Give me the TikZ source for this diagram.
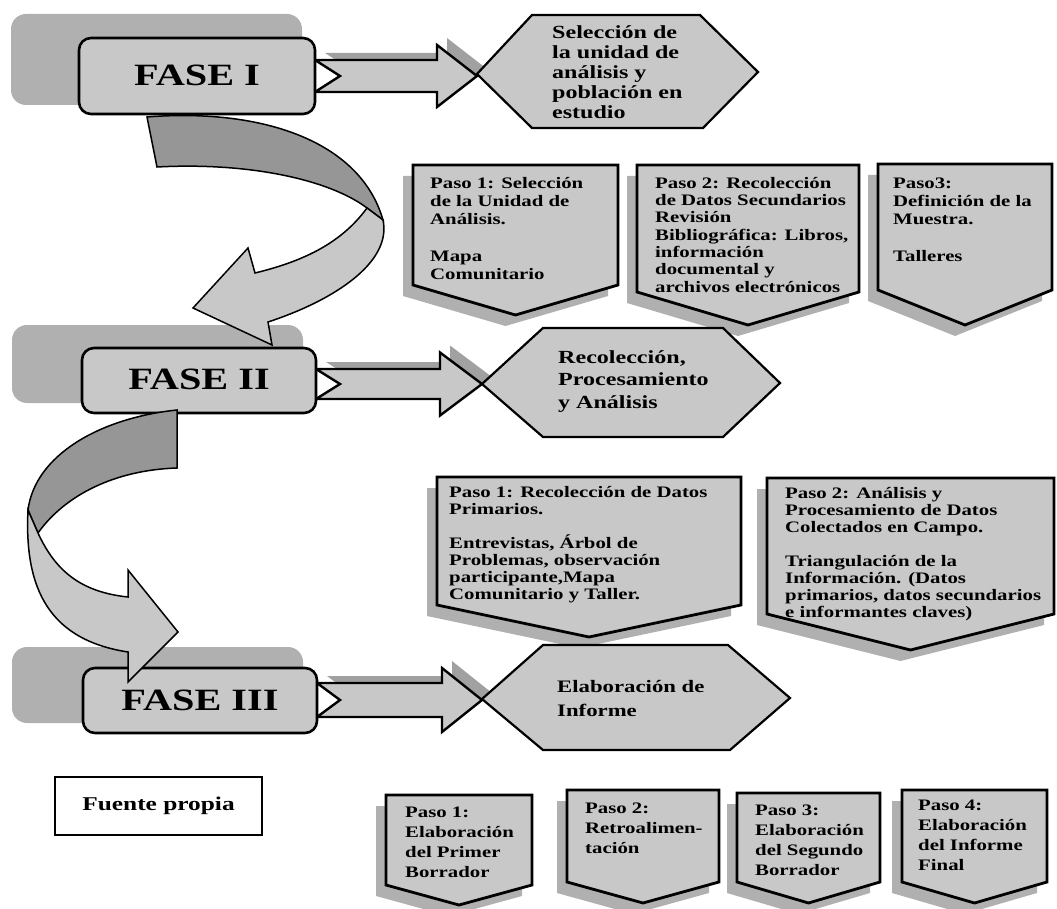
\documentclass[tikz,border=0pt]{standalone}
\usepackage{fontspec}
\setmainfont[FakeStretch=1.3]{Liberation Serif}
\usetikzlibrary{calc}
\definecolor{boxgray}{gray}{0.785}
\definecolor{shgray}{gray}{0.69}
\definecolor{arrsh}{gray}{0.63}
\definecolor{darkpart}{gray}{0.59}
\newcommand\fsz[2]{\fontsize{#1}{#2}\selectfont\bfseries}
\newcommand\fl{\rule{0pt}{14pt}}
\tikzset{
 stepshape/.style={fill=boxgray,draw=black,line width=2.8pt,line join=miter},
 stepshadow/.style={fill=shgray},
 fasebox/.style={fill=boxgray,draw=black,line width=2.6pt,rounded corners=12pt},
 faseshadow/.style={fill=shgray,rounded corners=15pt},
 hexshape/.style={fill=boxgray,draw=black,line width=2.2pt,line join=miter},
 blockarr/.style={fill=boxgray,draw=black,line width=2.4pt,line join=miter},
 arrowshadow/.style={fill=arrsh},
 curvelight/.style={fill=boxgray,draw=black,line width=1.5pt,line join=miter},
 curvedark/.style={fill=darkpart,draw=black,line width=1.5pt,line join=miter},
 txt/.style={anchor=north west,align=left,inner sep=0pt,yshift=14pt},
 fasetxt/.style={anchor=base,inner sep=0pt,font=\fsz{31}{34}},
}
\newcommand\pasopath[5]{(#1,#3) -- (#2,#3) -- (#2,#4) -- ({(#1+#2)/2},#5) -- (#1,#4) -- cycle}
\newcommand\pasobox[5]{%
 \fill[stepshadow,shift={(-10,11)}] \pasopath{#1}{#2}{#3}{#4}{#5};
 \draw[stepshape] \pasopath{#1}{#2}{#3}{#4}{#5};}
\newcommand\arrpath[7]{({#1},{#5-#6}) -- ({#3},{#5-#6}) -- ({#3},{#5-#7}) -- ({#4},{#5}) -- ({#3},{#5+#7}) -- ({#3},{#5+#6}) -- ({#1},{#5+#6}) -- ({#2},{#5}) -- cycle}
\newcommand\blockarrow[7]{%
 \fill[arrowshadow,shift={(10,-7)}] \arrpath{#1}{#2}{#3}{#4}{#5}{#6}{#7};
 \draw[blockarr] \arrpath{#1}{#2}{#3}{#4}{#5}{#6}{#7};}
\begin{document}
\begin{tikzpicture}[x=1pt,y=-1pt]
\useasboundingbox (0,0) rectangle (1057,909);
% FASE shadows
\fill[faseshadow] (11,14) rectangle (302,105);
\fill[faseshadow] (12,325) rectangle (303,403);
\fill[faseshadow] (12,647) rectangle (303,723);
% row 1 step boxes
\pasobox{413}{618}{165}{285}{315}
\pasobox{637}{859}{165}{292}{325}
\pasobox{878}{1052}{164}{290}{325}
% row 2 step boxes
\pasobox{437}{741}{477}{605}{637}
\pasobox{767}{1054}{478}{614}{650}
% row 3 step boxes
\pasobox{386}{532}{795}{885}{905}
\pasobox{567}{719}{790}{882}{903}
\pasobox{737}{880}{793}{882}{903}
\pasobox{902}{1047}{790}{882}{903}
% block arrows
\blockarrow{315}{340}{437}{477}{76}{16}{31}
\blockarrow{316}{340}{440}{482}{384}{15}{31.5}
\blockarrow{317}{340}{442}{482}{700}{17}{32}
% hexagons
\draw[hexshape] (477,74) -- (532,15) -- (700,15) -- (758,72) -- (703,128) -- (532,128) -- cycle;
\draw[hexshape] (482,384) -- (543,328) -- (723,328) -- (780,383) -- (723,437) -- (543,437) -- cycle;
\draw[hexshape] (482,699) -- (543,645) -- (728,645) -- (790,698) -- (730,750) -- (543,750) -- cycle;
% FASE boxes
\draw[fasebox] (79,38) rectangle (315,114);
\draw[fasebox] (82,348) rectangle (316,413);
\draw[fasebox] (83,668) rectangle (317,733);
% curved arrow 1
\draw[curvedark] (147,117) .. controls (260,108) and (360,140) .. (383,220) -- (367,208) .. controls (330,180) and (250,162) .. (157,167) -- cycle;
\draw[curvelight] (367,208) .. controls (340,245) and (300,262) .. (255,273) -- (248,248) -- (193,308) -- (272,345) -- (268,322) .. controls (335,300) and (392,262) .. (383,220) -- cycle;
% curved arrow 2
\draw[curvedark] (177,410) .. controls (100,418) and (35,455) .. (28,510) -- (38,533) .. controls (65,495) and (115,470) .. (177,468) -- cycle;
\draw[curvelight] (28,510) .. controls (24,590) and (50,640) .. (128,652) -- (128,682) -- (178,632) -- (128,570) -- (128,597) .. controls (80,592) and (55,570) .. (38,533) -- cycle;
% FASE texts
\node[fasetxt] (f1) at (197,86) {FASE I};
\node[fasetxt] (f2) at (199,389) {FASE II};
\node[fasetxt] (f3) at (200,710) {FASE III};
% hexagon texts
\node[txt,font=\fsz{18.5}{20}] (h1) at (552,38) {\fl Selección de\\la unidad de\\análisis y\\población en\\estudio};
\node[txt,font=\fsz{18.5}{22.5}] (h2) at (558,363) {\fl Recolección,\\Procesamiento\\y Análisis};
\node[txt,font=\fsz{17.5}{24}] (h3) at (557,692) {\fl Elaboración de\\Informe};
% row 1 texts
\node[txt,font=\fsz{16}{18.3}] (p11) at (430,188) {\fl Paso 1: Selección\\de la Unidad de\\Análisis.\\[18.3pt]Mapa\\Comunitario};
\node[txt,font=\fsz{16}{17.3}] (p12) at (655,188) {\fl Paso 2: Recolección\\de Datos Secundarios\\Revisión\\Bibliográfica: Libros,\\información\\documental y\\archivos electrónicos};
\node[txt,font=\fsz{16}{18.3}] (p13) at (893,188) {\fl Paso3:\\Definición de la\\Muestra.\\[18.3pt]Talleres};
% row 2 texts
\node[txt,font=\fsz{16}{17}] (p21) at (449,497) {\fl Paso 1: Recolección de Datos\\Primarios.\\[17pt]Entrevistas, Árbol de\\Problemas, observación\\participante,Mapa\\Comunitario y Taller.};
\node[txt,font=\fsz{16}{17}] (p22) at (785,498) {\fl Paso 2: Análisis y\\Procesamiento de Datos\\Colectados en Campo.\\[17pt]Triangulación de la\\Información. (Datos\\primarios, datos secundarios\\e informantes claves)};
% row 3 texts
\node[txt,font=\fsz{16}{20}] (p31) at (405,817) {\fl Paso 1:\\Elaboración\\del Primer\\Borrador};
\node[txt,font=\fsz{16}{20}] (p32) at (585,813) {\fl Paso 2:\\Retroalimen-\\tación};
\node[txt,font=\fsz{16}{20}] (p33) at (755,815) {\fl Paso 3:\\Elaboración\\del Segundo\\Borrador};
\node[txt,font=\fsz{16}{20}] (p34) at (918,810) {\fl Paso 4:\\Elaboración\\del Informe\\Final};
% fuente
\node[draw,line width=2.6pt,minimum width=207pt,minimum height=58pt,inner sep=0pt,font=\fsz{19.5}{22}] (fuente) at (158.5,806) {Fuente propia};
\end{tikzpicture}
\end{document}
